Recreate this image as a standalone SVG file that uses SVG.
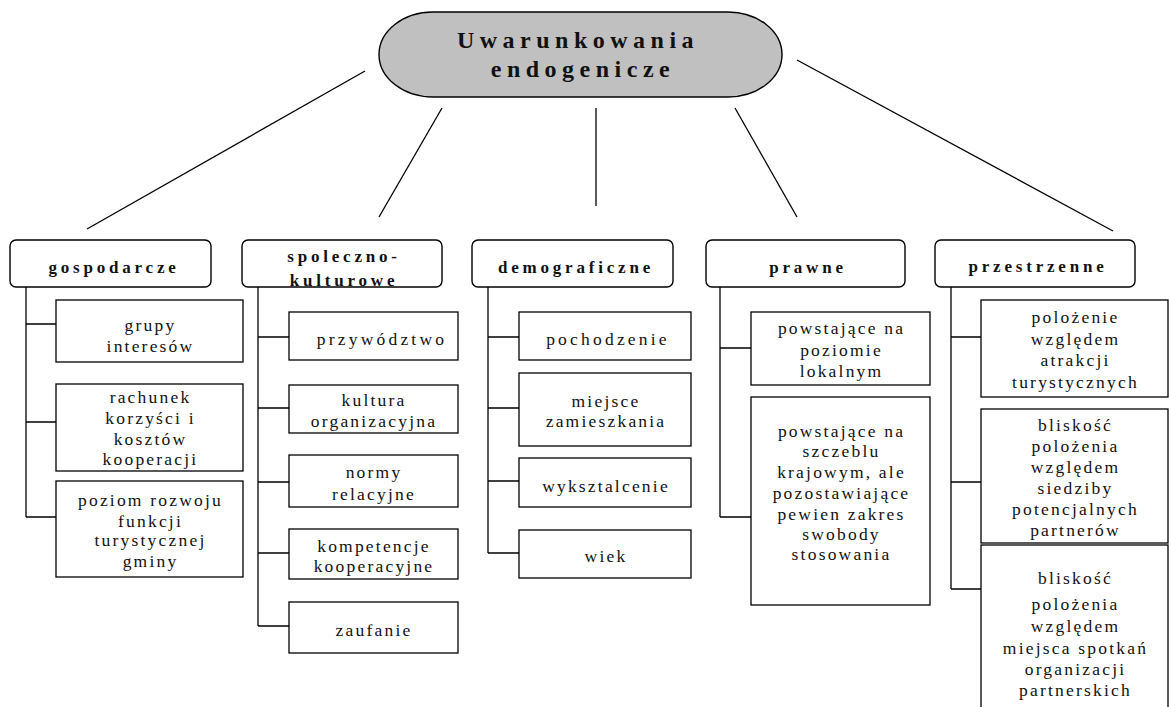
<svg xmlns="http://www.w3.org/2000/svg" width="1169" height="707" viewBox="0 0 1169 707">
  <style>
    .bg { fill: #ffffff; }
    .root { fill: #c0c0c0; stroke: #000; stroke-width: 1.4; }
    .head { fill: #ffffff; stroke: #000; stroke-width: 1.4; }
    .box { fill: #ffffff; stroke: #000; stroke-width: 1.3; }
    .wire { fill: none; stroke: #000; stroke-width: 1.3; }
    text { font-family: "Liberation Serif", "Times New Roman", serif; fill: #111; text-anchor: middle; }
    .title { font-size: 24px; font-weight: bold; letter-spacing: 5.5px; }
    .htxt { font-size: 17px; font-weight: bold; letter-spacing: 3.8px; }
    .ctxt { font-size: 17.5px; letter-spacing: 2.2px; }
    .wide { letter-spacing: 3.2px; }
  </style>

  <rect class="bg" x="0" y="0" width="1169" height="707"/>

  <!-- connectors: spokes from the root and the branch trees under each category -->
  <g id="connectors" class="wire">
    <line x1="365" y1="71" x2="87" y2="229"/>
    <line x1="442" y1="108" x2="379" y2="217"/>
    <line x1="596" y1="108" x2="596" y2="206"/>
    <line x1="735" y1="108" x2="797" y2="217"/>
    <line x1="797" y1="60" x2="1113" y2="231"/>

    <!-- gospodarcze -->
    <path d="M26 287 V517 M26 324 H56 M26 422 H56 M26 517 H56"/>
    <!-- spoleczno-kulturowe -->
    <path d="M258 287 V626 M258 337 H289 M258 408 H289 M258 482 H289 M258 553 H289 M258 626 H289"/>
    <!-- demograficzne -->
    <path d="M488 287 V553 M488 337 H519 M488 408 H519 M488 481 H519 M488 553 H519"/>
    <!-- prawne -->
    <path d="M720 287 V517 M720 348 H751 M720 517 H751"/>
    <!-- przestrzenne -->
    <path d="M951 287 V589 M951 337 H981 M951 482 H981 M951 589 H981"/>
  </g>

  <!-- root -->
  <g id="root">
    <rect class="root" x="379" y="12" width="403" height="85" rx="54" ry="42.5"/>
    <text class="title" x="578" y="48">Uwarunkowania</text>
    <text class="title" x="583" y="77">endogenicze</text>
  </g>

  <!-- category headers -->
  <g id="gospodarcze">
    <rect class="head" x="10" y="240" width="201" height="47" rx="6"/>
    <text class="htxt" x="114" y="273">gospodarcze</text>
  </g>
  <g id="spoleczno-kulturowe">
    <rect class="head" x="242" y="240" width="200" height="47" rx="6"/>
    <text class="htxt" x="344" y="262">spoleczno-</text>
    <text class="htxt" x="344" y="286">kulturowe</text>
  </g>
  <g id="demograficzne">
    <rect class="head" x="472" y="240" width="201" height="47" rx="6"/>
    <text class="htxt" x="576" y="273">demograficzne</text>
  </g>
  <g id="prawne">
    <rect class="head" x="706" y="240" width="199" height="47" rx="6"/>
    <text class="htxt" x="808" y="273">prawne</text>
  </g>
  <g id="przestrzenne">
    <rect class="head" x="935" y="240" width="200" height="47" rx="6"/>
    <text class="htxt" x="1038" y="272">przestrzenne</text>
  </g>

  <!-- gospodarcze children -->
  <g id="grupy-interesow">
    <rect class="box" x="56" y="300" width="187" height="62"/>
    <text class="ctxt" x="150.5" y="331">grupy</text>
    <text class="ctxt" x="150.5" y="352">interesów</text>
  </g>
  <g id="rachunek">
    <rect class="box" x="56" y="384" width="187" height="87"/>
    <text class="ctxt" x="150.5" y="403">rachunek</text>
    <text class="ctxt" x="150.5" y="424">korzyści i</text>
    <text class="ctxt" x="150.5" y="445">kosztów</text>
    <text class="ctxt" x="150.5" y="465">kooperacji</text>
  </g>
  <g id="poziom-rozwoju">
    <rect class="box" x="56" y="481" width="187" height="96"/>
    <text class="ctxt" x="150.5" y="506">poziom rozwoju</text>
    <text class="ctxt" x="150.5" y="527">funkcji</text>
    <text class="ctxt" x="150.5" y="546">turystycznej</text>
    <text class="ctxt" x="150.5" y="567">gminy</text>
  </g>

  <!-- spoleczno-kulturowe children -->
  <g id="przywodztwo">
    <rect class="box" x="289" y="312" width="169" height="48"/>
    <text class="ctxt wide" x="382" y="345">przywództwo</text>
  </g>
  <g id="kultura-organizacyjna">
    <rect class="box" x="289" y="385" width="169" height="48"/>
    <text class="ctxt" x="374" y="406">kultura</text>
    <text class="ctxt" x="374" y="427">organizacyjna</text>
  </g>
  <g id="normy-relacyjne">
    <rect class="box" x="289" y="455" width="169" height="52"/>
    <text class="ctxt" x="374" y="478">normy</text>
    <text class="ctxt" x="374" y="500">relacyjne</text>
  </g>
  <g id="kompetencje">
    <rect class="box" x="289" y="529" width="169" height="50"/>
    <text class="ctxt" x="374" y="552">kompetencje</text>
    <text class="ctxt" x="374" y="572">kooperacyjne</text>
  </g>
  <g id="zaufanie">
    <rect class="box" x="289" y="602" width="169" height="51"/>
    <text class="ctxt" x="374" y="636">zaufanie</text>
  </g>

  <!-- demograficzne children -->
  <g id="pochodzenie">
    <rect class="box" x="519" y="312" width="172" height="48"/>
    <text class="ctxt wide" x="608" y="345">pochodzenie</text>
  </g>
  <g id="miejsce-zamieszkania">
    <rect class="box" x="519" y="373" width="172" height="73"/>
    <text class="ctxt" x="606" y="407">miejsce</text>
    <text class="ctxt" x="606" y="427">zamieszkania</text>
  </g>
  <g id="wyksztalcenie">
    <rect class="box" x="519" y="458" width="172" height="49"/>
    <text class="ctxt" x="606" y="492">wyksztalcenie</text>
  </g>
  <g id="wiek">
    <rect class="box" x="519" y="530" width="172" height="48"/>
    <text class="ctxt" x="606" y="562">wiek</text>
  </g>

  <!-- prawne children -->
  <g id="lokalne">
    <rect class="box" x="751" y="312" width="179" height="73"/>
    <text class="ctxt" x="841.5" y="334">powstające na</text>
    <text class="ctxt" x="841.5" y="356">poziomie</text>
    <text class="ctxt" x="841.5" y="377">lokalnym</text>
  </g>
  <g id="krajowe">
    <rect class="box" x="751" y="397" width="179" height="208"/>
    <text class="ctxt" x="841.5" y="437">powstające na</text>
    <text class="ctxt" x="841.5" y="457">szczeblu</text>
    <text class="ctxt" x="841.5" y="478">krajowym, ale</text>
    <text class="ctxt" x="841.5" y="499">pozostawiające</text>
    <text class="ctxt" x="841.5" y="520">pewien zakres</text>
    <text class="ctxt" x="841.5" y="540">swobody</text>
    <text class="ctxt" x="841.5" y="560">stosowania</text>
  </g>

  <!-- przestrzenne children -->
  <g id="atrakcje">
    <rect class="box" x="981" y="300" width="187" height="97"/>
    <text class="ctxt" x="1075.5" y="323">polożenie</text>
    <text class="ctxt" x="1075.5" y="345">względem</text>
    <text class="ctxt" x="1075.5" y="366">atrakcji</text>
    <text class="ctxt" x="1075.5" y="388">turystycznych</text>
  </g>
  <g id="siedziby">
    <rect class="box" x="981" y="409" width="187" height="134"/>
    <text class="ctxt" x="1075.5" y="431">bliskość</text>
    <text class="ctxt" x="1075.5" y="452">polożenia</text>
    <text class="ctxt" x="1075.5" y="473">względem</text>
    <text class="ctxt" x="1075.5" y="494">siedziby</text>
    <text class="ctxt" x="1075.5" y="515">potencjalnych</text>
    <text class="ctxt" x="1075.5" y="536">partnerów</text>
  </g>
  <g id="spotkania">
    <rect class="box" x="981" y="545" width="187" height="170"/>
    <text class="ctxt" x="1075.5" y="584">bliskość</text>
    <text class="ctxt" x="1075.5" y="610">polożenia</text>
    <text class="ctxt" x="1075.5" y="632">względem</text>
    <text class="ctxt" x="1075.5" y="654">miejsca spotkań</text>
    <text class="ctxt" x="1075.5" y="675">organizacji</text>
    <text class="ctxt" x="1075.5" y="696">partnerskich</text>
  </g>
</svg>
